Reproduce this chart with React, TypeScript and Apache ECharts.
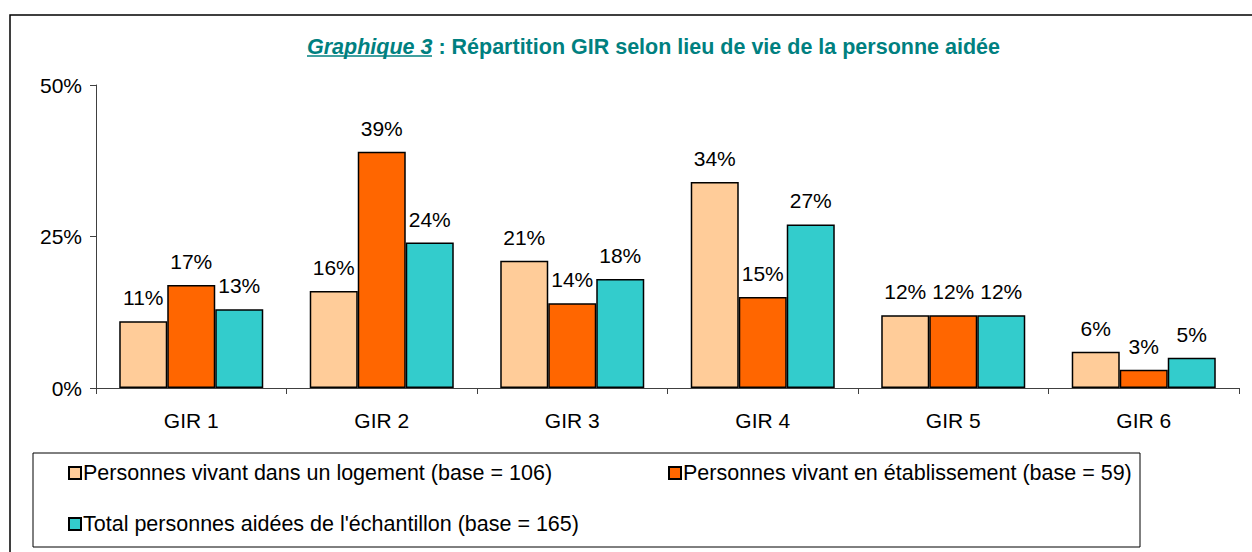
import React, { useEffect, useRef } from "react";
import * as echarts from "echarts";

const categories = ["GIR 1", "GIR 2", "GIR 3", "GIR 4", "GIR 5", "GIR 6"];
const logement = [11, 16, 21, 34, 12, 6];
const etablissement = [17, 39, 14, 15, 12, 3];
const total = [13, 24, 18, 27, 12, 5];
const seriesNames = [
  "Personnes vivant dans un logement (base = 106)",
  "Personnes vivant en établissement (base = 59)",
  "Total personnes aidées de l'échantillon (base = 165)",
];
const colors = ["#FFCC99", "#FF6600", "#33CCCC"];
const FONT = "Liberation Sans, Arial, sans-serif";

export default function App() {
  const ref = useRef<HTMLDivElement>(null);
  useEffect(() => {
    document.body.style.margin = "0";
    const chart = echarts.init(ref.current!, null, { renderer: "svg" });
    const datas = [logement, etablissement, total];
    const legendPos = [
      { left: 63, top: 457 },
      { left: 663, top: 457 },
      { left: 63, top: 508 },
    ];
    chart.setOption({
      animation: false,
      textStyle: { fontFamily: FONT },
      title: {
        text: "{u|Graphique 3}{b| : Répartition GIR selon lieu de vie de la personne aidée}",
        left: 302,
        top: 31,
        textStyle: {
          rich: {
            u: { fontFamily: FONT, fontSize: 21.5, fontWeight: "bold", fontStyle: "italic", color: "#008080" },
            b: { fontFamily: FONT, fontSize: 21.5, fontWeight: "bold", color: "#008080" },
          },
        },
      },
      grid: { left: 96, top: 85, width: 1143, height: 303 },
      xAxis: {
        type: "category",
        data: categories,
        axisLine: { lineStyle: { color: "#404040", width: 1 } },
        axisTick: { show: true, length: 6, lineStyle: { color: "#404040" } },
        axisLabel: { color: "#000", fontSize: 21, fontFamily: FONT, margin: 22 },
      },
      yAxis: {
        type: "value",
        min: 0,
        max: 50,
        interval: 25,
        axisLine: { show: true, lineStyle: { color: "#404040", width: 1 } },
        axisTick: { show: true, length: 6, lineStyle: { color: "#404040" } },
        splitLine: { show: false },
        axisLabel: { color: "#000", fontSize: 21, fontFamily: FONT, formatter: "{value}%", margin: 14 },
      },
      legend: seriesNames.map((n, i) => ({
        data: [n],
        left: legendPos[i].left,
        top: legendPos[i].top,
        itemWidth: 12,
        itemHeight: 12,
        itemGap: 0,
        icon: "rect",
        selectedMode: false,
        textStyle: { fontSize: 21.5, color: "#000", fontFamily: FONT, padding: [0, 0, 0, -3] },
      })),
      series: seriesNames.map((n, i) => ({
        name: n,
        type: "bar",
        data: datas[i],
        barGap: "0%",
        barCategoryGap: "24.4%",
        itemStyle: { color: colors[i], borderColor: "#000", borderWidth: 1.5 },
        label: {
          show: true,
          position: "top",
          distance: 13,
          formatter: "{c}%",
          fontSize: 21,
          color: "#000",
          fontFamily: FONT,
        },
      })),
      graphic: [
        {
          type: "rect",
          shape: { x: 10, y: 15, width: 1260, height: 545 },
          style: { fill: "none", stroke: "#000", lineWidth: 1.5 },
          silent: true,
        },
        {
          type: "rect",
          shape: { x: 33, y: 453, width: 1107, height: 94 },
          style: { fill: "none", stroke: "#000", lineWidth: 1 },
          silent: true,
        },
        {
          type: "line",
          shape: { x1: 307, y1: 56, x2: 432, y2: 56 },
          style: { stroke: "#008080", lineWidth: 1.5 },
          silent: true,
        },
      ],
    });
    return () => chart.dispose();
  }, []);
  return <div ref={ref} style={{ width: 1252, height: 552, position: "absolute", left: 0, top: 0 }} />;
}
